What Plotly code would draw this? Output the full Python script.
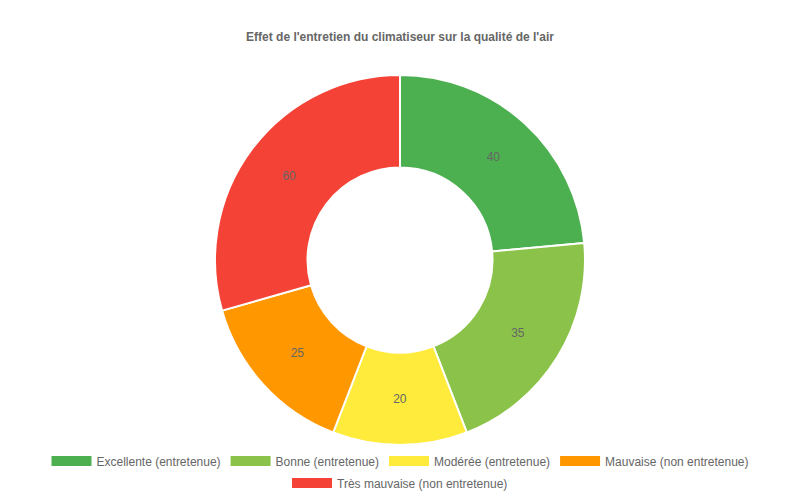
import plotly.graph_objects as go

labels = ['Excellente (entretenue)', 'Bonne (entretenue)', 'Modérée (entretenue)',
          'Mauvaise (non entretenue)', 'Très mauvaise (non entretenue)']
# slice sizes as drawn in the reference (the last arc measures ~50 although its label reads 60)
values = [40, 35, 20, 25, 50]
value_labels = ['40', '35', '20', '25', '60']
colors = ['#4CAF50', '#8BC34A', '#FFEB3B', '#FF9800', '#F44336']

fig = go.Figure()

fig.add_trace(go.Pie(
    labels=labels, values=values, text=value_labels,
    hole=0.5, sort=False, direction='clockwise',
    marker=dict(colors=colors, line=dict(color='white', width=2)),
    textinfo='text', textposition='inside', insidetextorientation='horizontal',
    textfont=dict(color='#666666', size=12),
    domain=dict(x=[0, 1], y=[0.11, 0.85]),
    showlegend=False
))

# legend entries with wide swatches (last one on its own centred row)
for i, (name, col) in enumerate(zip(labels, colors)):
    fig.add_trace(go.Scatter(
        x=[None], y=[None], mode='lines', name=name,
        line=dict(color=col, width=12),
        legend='legend2' if i == len(labels) - 1 else 'legend'
    ))

leg = dict(orientation='h', x=0.5, xanchor='center', yanchor='middle',
           font=dict(size=12, color='#666666'), itemwidth=40,
           bgcolor='rgba(0,0,0,0)')

fig.update_layout(
    width=800, height=500,
    margin=dict(l=0, r=0, t=0, b=0),
    paper_bgcolor='white', plot_bgcolor='white',
    font=dict(family='Liberation Sans, Arial, sans-serif', color='#666666'),
    title=dict(text="<b>Effet de l'entretien du climatiseur sur la qualité de l'air</b>",
               x=0.5, xanchor='center', y=0.926, yanchor='middle',
               font=dict(size=12, color='#666666')),
    xaxis=dict(visible=False), yaxis=dict(visible=False),
    legend=dict(leg, y=0.078),
    legend2=dict(leg, y=0.034)
)

fig.write_html('out.html', config={'displayModeBar': False},
               post_script="document.body.style.margin='0';")
